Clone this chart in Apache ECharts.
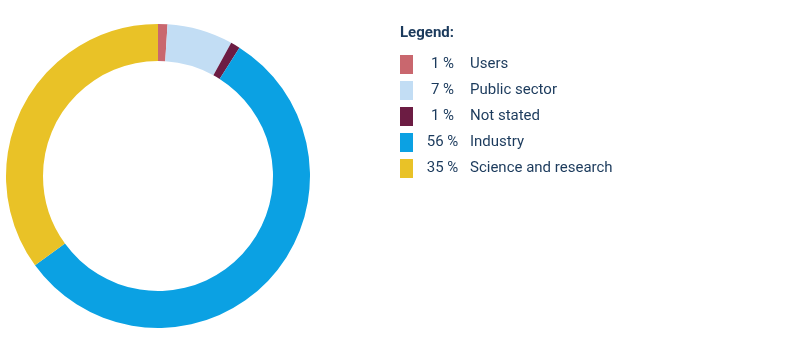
<!DOCTYPE html>
<html>
<head>
<meta charset="utf-8">
<script src="https://cdn.jsdelivr.net/npm/echarts@6/dist/echarts.min.js"></script>
<style>
html, body { margin: 0; padding: 0; background: #fff; }
#chart { width: 801px; height: 351px; }
</style>
</head>
<body>
<div id="chart"></div>
<script>
var categories = ['Users', 'Public sector', 'Not stated', 'Industry', 'Science and research'];
var shares = [1, 7, 1, 56, 35];
var colors = ['#c9676e', '#c2ddf4', '#6c1c43', '#0ba1e3', '#e9c227'];

var textColor = '#1b3a5c';
var font = 'Roboto';

var pieData = [];
for (var i = 0; i < categories.length; i++) {
    pieData.push({ name: categories[i], value: shares[i] });
}

var chart = echarts.init(document.getElementById('chart'));
chart.setOption({
    animation: false,
    title: {
        text: 'Legend:',
        left: 395,
        top: 21,
        textStyle: { fontFamily: font, fontSize: 15, fontWeight: 'bold', color: textColor }
    },
    legend: {
        orient: 'vertical',
        left: 400,
        top: 55,
        padding: 0,
        icon: 'rect',
        itemWidth: 13,
        itemHeight: 19,
        itemGap: 7,
        selectedMode: false,
        data: categories,
        formatter: function(name) {
            var idx = categories.indexOf(name);
            return '{v|' + shares[idx] + ' %}{n|' + name + '}';
        },
        textStyle: {
            fontFamily: font,
            fontSize: 15,
            color: textColor,
            rich: {
                v: { width: 49, align: 'right', fontFamily: font, fontSize: 15, color: textColor },
                n: { padding: [0, 0, 0, 3], fontFamily: font, fontSize: 15, color: textColor }
            }
        }
    },
    color: colors,
    series: [{
        type: 'pie',
        center: [158, 176],
        radius: [115, 152],
        startAngle: 90,
        clockwise: true,
        label: { show: false },
        labelLine: { show: false },
        emphasis: { disabled: true },
        data: pieData
    }]
});
</script>
</body>
</html>
